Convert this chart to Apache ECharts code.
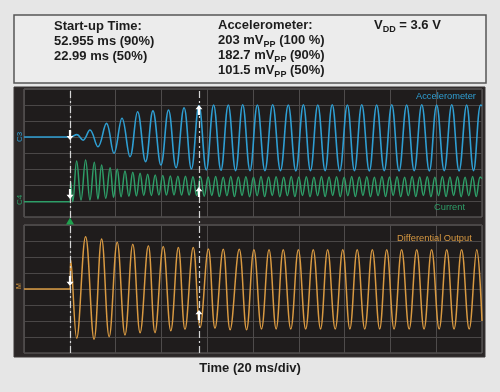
<!DOCTYPE html>
<html>
<head>
<meta charset="utf-8">
<script src="https://cdn.jsdelivr.net/npm/echarts@6/dist/echarts.min.js"></script>
<style>
html,body{margin:0;padding:0;background:#e6e6e6;}
#chart{width:500px;height:392px;}
</style>
</head>
<body>
<div id="chart"></div>
<script>
// ---- Data (time in ms, 20 ms/div; amplitude in scope divisions, 0 = panel bottom) ----
const timeRange = [0, 200];
const timeStep = 20;
const divRange = [0, 8];

const startupLines = ['Start-up Time:', '52.955 ms (90%)', '22.99 ms (50%)'];
const accelTitle = 'Accelerometer:';
const accelValues = ['203', '182.7', '101.5'];
const accelPcts = ['(100 %)', '(90%)', '(50%)'];
const vddText = '= 3.6 V';
const xAxisTitle = 'Time (20 ms/div)';
const traceNames = ['Accelerometer', 'Current', 'Differential Output'];

// Accelerometer trace (C3) — peaks/troughs
const accelData = [
  [0,5.0],[20.1,5.0],[23.1,5.15],[25.8,4.8],[28.8,5.44],[32.3,4.39],[36.0,5.85],[39.3,3.98],
  [42.8,6.17],[46.3,3.77],[49.6,6.58],[53.1,3.46],[56.3,6.63],[59.8,3.25],[63.1,6.69],[66.4,3.08],
  [69.9,6.83],[73.1,3.0],[76.4,6.96],[79.6,2.94],[82.8,7.0],[86.0,2.92],[89.2,7.0],[92.4,2.9],
  [95.5,7.02],[98.7,2.9],[101.9,7.0],[105.2,2.9],[108.6,7.02],[112.0,2.9],[115.4,7.0],[118.7,2.88],
  [122.0,7.02],[125.1,2.9],[128.3,7.0],[131.5,2.9],[134.6,7.02],[137.9,2.88],[141.2,7.0],[144.3,2.9],
  [147.5,7.02],[150.8,2.88],[154.0,7.0],[157.3,2.9],[160.6,7.02],[163.8,2.88],[167.1,7.0],[170.4,2.9],
  [173.7,7.02],[177.0,2.88],[180.2,7.0],[183.5,2.9],[186.8,7.02],[190.0,2.88],[193.3,7.0],[196.3,2.9],
  [199.4,7.0],[200,6.95]
];

// Supply current trace (C4)
const currentData = [
  [0,0.96],[20.2,0.96],[20.4,2.2],[21.3,0.96],
  [23.0,3.5],[24.9,1.06],[26.9,3.56],[28.8,1.06],[30.7,3.42],[32.3,1.12],[33.9,3.25],[35.7,1.17],
  [37.6,3.08],[39.1,1.22],[40.7,3.0],[42.4,1.27],[44.1,2.88],[45.8,1.3],[47.5,2.79],[49.1,1.32],
  [50.7,2.73],[52.3,1.35],[54.0,2.67],[55.6,1.35],[57.3,2.62],[58.9,1.37],[60.6,2.6],[62.2,1.37],
  [63.9,2.57],[65.5,1.38],[67.2,2.55],[68.8,1.38],[70.5,2.55],[72.1,1.37],[73.8,2.52],[75.4,1.35],
  [77.1,2.52],[78.7,1.3],[80.4,2.5],[82.0,1.35],[83.7,2.53],[85.3,1.28],[87.0,2.48],[88.6,1.33],
  [90.3,2.53],[91.9,1.28],[93.6,2.5],[95.2,1.35],[96.9,2.52],[98.5,1.27],[100.2,2.48],[101.8,1.33],
  [103.5,2.53],[105.1,1.28],[106.8,2.5],[108.4,1.35],[110.1,2.52],[111.7,1.27],[113.4,2.48],[115.0,1.33],
  [116.7,2.53],[118.3,1.28],[120.0,2.5],[121.6,1.35],[123.3,2.52],[124.9,1.27],[126.6,2.48],[128.2,1.33],
  [129.9,2.53],[131.5,1.28],[133.2,2.5],[134.8,1.35],[136.5,2.52],[138.1,1.27],[139.8,2.48],[141.4,1.33],
  [143.1,2.53],[144.7,1.28],[146.4,2.5],[148.0,1.35],[149.7,2.52],[151.3,1.27],[153.0,2.48],[154.6,1.33],
  [156.3,2.53],[157.9,1.28],[159.6,2.5],[161.2,1.35],[162.9,2.52],[164.5,1.27],[166.2,2.48],[167.8,1.33],
  [169.5,2.53],[171.1,1.28],[172.8,2.5],[174.4,1.35],[176.1,2.52],[177.7,1.27],[179.4,2.48],[181.0,1.33],
  [182.7,2.53],[184.3,1.28],[186.0,2.5],[187.6,1.35],[189.3,2.52],[190.9,1.27],[192.6,2.48],[194.2,1.33],
  [195.9,2.53],[197.5,1.28],[199.2,2.5],[200,2.4]
];

// Differential output trace (bottom panel)
const diffData = [
  [0,4.0],[20.1,4.0],[20.4,5.81],[23.0,0.92],[26.9,7.27],[30.6,0.86],[33.9,7.13],[37.2,1.02],
  [40.7,6.92],[44.1,1.13],[47.5,6.79],[50.7,1.27],[54.3,6.71],[57.2,1.27],[60.8,6.65],[64.1,1.39],
  [67.4,6.6],[70.3,1.48],[73.9,6.6],[76.9,1.6],[80.5,6.5],[83.4,1.55],[87.0,6.48],[90.0,1.45],
  [94.0,6.48],[97.2,1.45],[100.4,6.45],[103.7,1.5],[107.0,6.45],[110.1,1.5],[113.2,6.45],[116.5,1.5],
  [119.8,6.45],[123.0,1.5],[126.3,6.45],[129.5,1.5],[132.6,6.45],[135.9,1.5],[139.2,6.45],[142.3,1.5],
  [145.5,6.45],[148.8,1.5],[152.1,6.45],[155.3,1.5],[158.4,6.45],[161.6,1.5],[164.9,6.45],[168.2,1.5],
  [171.5,6.45],[174.7,1.5],[178.0,6.45],[181.3,1.5],[184.6,6.45],[187.8,1.5],[191.1,6.45],[194.4,1.5],
  [197.7,6.45],[200,2.0]
];

// Cursor positions (ms) and cursor arrow markers [time, level, direction]
const cursorTimes = [20.1, 76.4];
const accelArrows = [[20.1, 5.12, 'down'], [76.4, 6.69, 'up']];
const currentArrows = [[20.1, 1.44, 'down'], [76.4, 1.56, 'up']];
const diffArrows = [[20.1, 4.5, 'down'], [76.4, 2.375, 'up']];

// ---- Chart ----
const COL_ACC = '#2f9fd3', COL_CUR = '#2e9e68', COL_DIF = '#d99a42';
const FONT = 'Liberation Sans, Arial, sans-serif';
const arrowPath = 'path://M5,0 L10,5 L6.6,5 L6.6,12 L3.4,12 L3.4,5 L0,5 Z';

function arrows(list) {
  return {
    silent: true,
    symbol: arrowPath,
    symbolSize: [7, 10],
    label: {show: false},
    itemStyle: {color: '#ffffff'},
    data: list.map(a => ({coord: [a[0], a[1]], symbolRotate: a[2] === 'down' ? 180 : 0}))
  };
}

const gridBase = {show: true, backgroundColor: '#1f1c1c', borderColor: '#6a6767', borderWidth: 1};
function xAx(i) {
  return {gridIndex: i, type: 'value', min: timeRange[0], max: timeRange[1], interval: timeStep,
    axisLine: {show: false}, axisTick: {show: false}, axisLabel: {show: false},
    splitLine: {show: true, lineStyle: {color: '#4e4b4b', width: 1}}};
}
function yAx(i) {
  return {gridIndex: i, type: 'value', min: divRange[0], max: divRange[1], interval: 1,
    axisLine: {show: false}, axisTick: {show: false}, axisLabel: {show: false},
    splitLine: {show: true, lineStyle: {color: '#4a4747', width: 1}}};
}

const bold = {fontFamily: FONT, fontSize: 13, fontWeight: 'bold', color: '#1c1c1c', lineHeight: 15, verticalAlign: 'top'};
const sub = {fontFamily: FONT, fontSize: 9, fontWeight: 'bold', color: '#1c1c1c', lineHeight: 7, verticalAlign: 'bottom'};

const accelText = ['{n|' + accelTitle + '}']
  .concat(accelValues.map((v, i) => '{n|' + v + ' mV}{s|PP}{n| ' + accelPcts[i] + '}'))
  .join('\n');

const labelStyle = c => ({fontFamily: FONT, fontSize: 9.3, fontWeight: 'normal', color: c});

const chart = echarts.init(document.getElementById('chart'), null, {renderer: 'canvas'});
chart.setOption({
  backgroundColor: '#e6e6e6',
  animation: false,
  title: [
    {text: startupLines.join('\n'), left: 54, top: 19, padding: 0,
      textStyle: {fontFamily: FONT, fontSize: 13, fontWeight: 'bold', color: '#1c1c1c', lineHeight: 15}},
    {text: accelText, left: 218, top: 19, padding: 0, textStyle: {rich: {n: bold, s: sub}}},
    {text: '{n|V}{s|DD}{n| ' + vddText + '}', left: 374, top: 19, padding: 0, textStyle: {rich: {n: bold, s: sub}}},
    {text: xAxisTitle, left: 'center', top: 362, padding: 0,
      textStyle: {fontFamily: FONT, fontSize: 13, fontWeight: 'bold', color: '#1c1c1c'}},
    {text: traceNames[0], left: 416, top: 92, padding: 0, textStyle: labelStyle(COL_ACC)},
    {text: traceNames[1], left: 434, top: 203, padding: 0, textStyle: labelStyle(COL_CUR)},
    {text: traceNames[2], left: 397, top: 234, padding: 0, textStyle: labelStyle(COL_DIF)}
  ],
  graphic: {elements: [
    {type: 'rect', z: -10, shape: {x: 14, y: 15, width: 472, height: 68},
      style: {fill: '#ececec', stroke: '#555555', lineWidth: 1.5}},
    {type: 'rect', z: -10, shape: {x: 14, y: 87, width: 471, height: 270},
      style: {fill: '#2b2727', stroke: '#3a3636', lineWidth: 1}},
    {type: 'text', z: 5, x: 20, y: 137, rotation: Math.PI / 2,
      style: {text: 'C3', font: '8px ' + FONT, fill: COL_ACC, align: 'center', verticalAlign: 'middle'}},
    {type: 'text', z: 5, x: 20, y: 200, rotation: Math.PI / 2,
      style: {text: 'C4', font: '8px ' + FONT, fill: COL_CUR, align: 'center', verticalAlign: 'middle'}},
    {type: 'text', z: 5, x: 19, y: 286, rotation: Math.PI / 2,
      style: {text: 'M', font: '7px ' + FONT, fill: COL_DIF, align: 'center', verticalAlign: 'middle'}}
  ]},
  grid: [
    Object.assign({left: 24, top: 89, width: 458, height: 128}, gridBase),
    Object.assign({left: 24, top: 225, width: 458, height: 128}, gridBase),
    {left: 24, top: 89, width: 458, height: 264, show: false}
  ],
  xAxis: [xAx(0), xAx(1),
    {gridIndex: 2, type: 'value', min: timeRange[0], max: timeRange[1], show: false}],
  yAxis: [yAx(0), yAx(1),
    {gridIndex: 2, type: 'value', min: 0, max: 1, show: false}],
  series: [
    {name: traceNames[0], type: 'line', xAxisIndex: 0, yAxisIndex: 0, data: accelData,
      smooth: 0.4, showSymbol: false, lineStyle: {color: COL_ACC, width: 1.6}, z: 3,
      markPoint: arrows(accelArrows)},
    {name: traceNames[1], type: 'line', xAxisIndex: 0, yAxisIndex: 0, data: currentData,
      smooth: 0.4, showSymbol: false, lineStyle: {color: COL_CUR, width: 1.5}, z: 3,
      markPoint: arrows(currentArrows)},
    {name: traceNames[2], type: 'line', xAxisIndex: 1, yAxisIndex: 1, data: diffData,
      smooth: 0.4, showSymbol: false, lineStyle: {color: COL_DIF, width: 1.5}, z: 3,
      markPoint: arrows(diffArrows)},
    {name: 'cursors', type: 'line', xAxisIndex: 2, yAxisIndex: 2, data: [], z: 4,
      markLine: {silent: true, symbol: 'none', label: {show: false},
        lineStyle: {color: '#d4d4d4', type: [7, 3, 2, 3], width: 1.2},
        data: cursorTimes.map(t => ({xAxis: t}))},
      markPoint: {silent: true, symbol: 'triangle', symbolSize: [8, 7], label: {show: false},
        itemStyle: {color: '#1fa34f'}, data: [{coord: [cursorTimes[0], 0.5]}]}}
  ]
});
</script>
</body>
</html>
